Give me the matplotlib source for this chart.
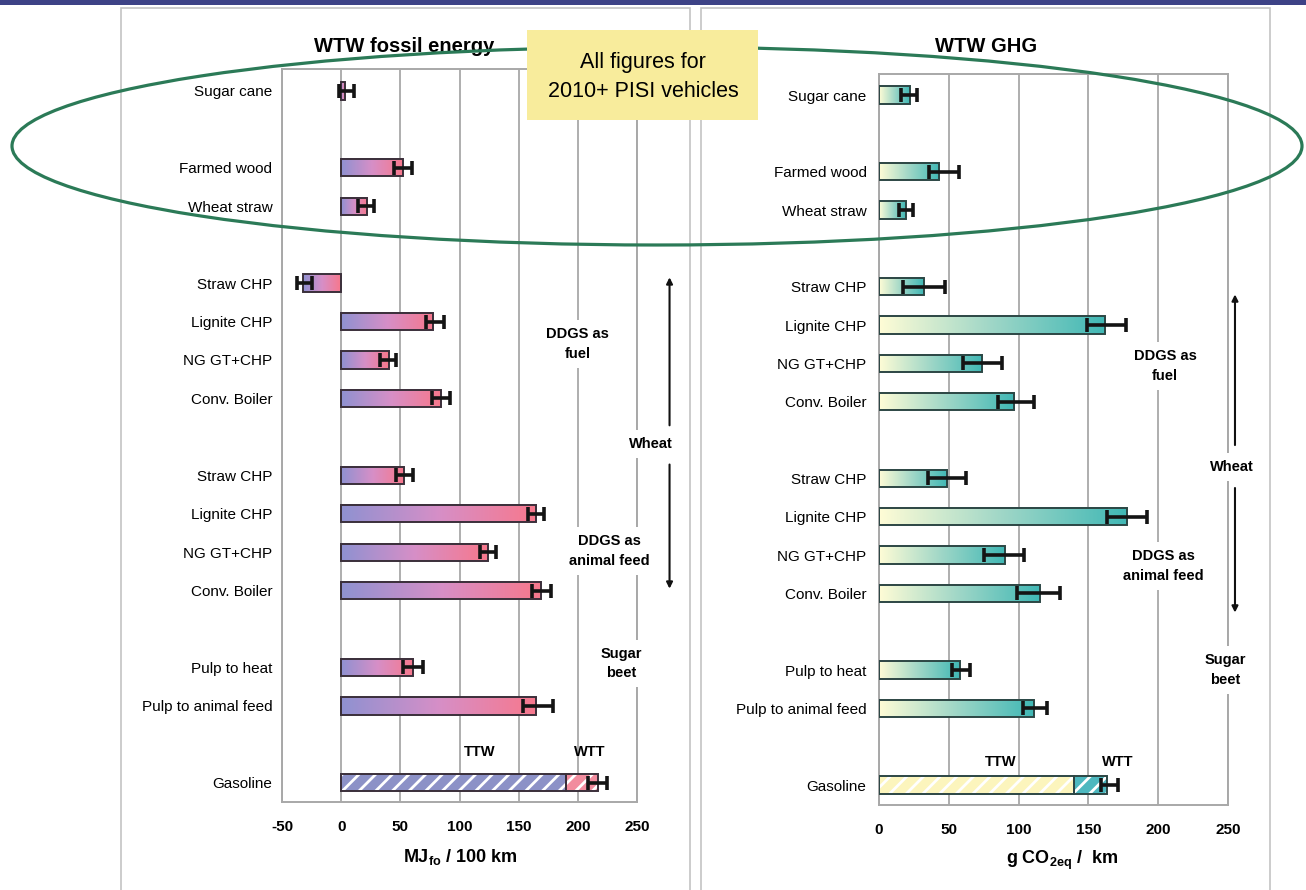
"""
Well-to-wheels fossil energy and GHG for ethanol pathways (2010+ PISI vehicles),
two horizontal bar panels with min/max ranges and a gasoline reference.
"""

import matplotlib.pyplot as plt
import numpy as np
from matplotlib.colors import LinearSegmentedColormap
from matplotlib.patches import Ellipse, Rectangle

W_PX, H_PX = 1306, 890

plt.rcParams["font.family"] = ["Liberation Sans", "DejaVu Sans"]
plt.rcParams["mathtext.fontset"] = "custom"
plt.rcParams["mathtext.rm"] = "Liberation Sans:bold"
plt.rcParams["mathtext.it"] = "Liberation Sans:bold"
plt.rcParams["mathtext.bf"] = "Liberation Sans:bold"
plt.rcParams["axes.unicode_minus"] = False
plt.rcParams["hatch.linewidth"] = 2.0

# Pathways, grouped as they are stacked down the chart
GROUPS = [
    ["Sugar cane"],
    ["Farmed wood", "Wheat straw"],
    ["Straw CHP", "Lignite CHP", "NG GT+CHP", "Conv. Boiler"],
    ["Straw CHP", "Lignite CHP", "NG GT+CHP", "Conv. Boiler"],
    ["Pulp to heat", "Pulp to animal feed"],
    ["Gasoline"],
]

# WTW fossil energy, MJ / 100 km (best estimate, min, max)
energy_val = [3, 52, 22, -32, 78, 40, 84, 53, 165, 124, 169, 61, 165]
energy_lo = [-2, 45, 14, -37, 72, 33, 77, 46, 158, 117, 161, 52, 154]
energy_hi = [11, 60, 28, -25, 87, 46, 92, 61, 171, 131, 177, 69, 179]
gasoline_energy_ttw = 190
gasoline_energy_total = 217
gasoline_energy_range = (209, 225)

# WTW GHG, g CO2eq / km (best estimate, min, max)
ghg_val = [22, 43, 19, 32, 162, 74, 97, 49, 178, 90, 115, 58, 111]
ghg_lo = [16, 36, 14, 17, 149, 60, 85, 35, 163, 75, 99, 52, 103]
ghg_hi = [27, 57, 24, 47, 177, 88, 111, 62, 192, 104, 130, 65, 120]
gasoline_ghg_ttw = 140
gasoline_ghg_total = 163
gasoline_ghg_range = (159, 171)

ENERGY_CMAP = LinearSegmentedColormap.from_list(
    "energy", [(0.56, 0.57, 0.82), (0.84, 0.56, 0.78), (0.97, 0.47, 0.55)])
GHG_CMAP = LinearSegmentedColormap.from_list(
    "ghg", [(1.0, 0.99, 0.84), (0.62, 0.84, 0.78), (0.25, 0.72, 0.71)])


def fig_xy(x_px, y_px):
    return x_px / W_PX, 1 - y_px / H_PX


def row_positions():
    labels, pos = [], []
    y = 0
    for group in GROUPS:
        for name in group:
            labels.append(name)
            pos.append(y)
            y += 1
        y += 1
    return labels, pos


def gradient_bar(ax, x0, x1, y, h, cmap, edge):
    grad = np.linspace(0, 1, 256).reshape(1, -1)
    ax.imshow(grad, extent=(x0, x1, y + h / 2, y - h / 2), aspect="auto",
              cmap=cmap, interpolation="bilinear", zorder=2)
    ax.add_patch(Rectangle((x0, y - h / 2), x1 - x0, h, fill=False,
                           edgecolor=edge, lw=1.4, zorder=3))


def hatched_bar(ax, x0, x1, y, h, fill, edge):
    ax.add_patch(Rectangle((x0, y - h / 2), x1 - x0, h, facecolor=fill,
                           edgecolor="white", hatch="//", lw=0, zorder=2))
    ax.add_patch(Rectangle((x0, y - h / 2), x1 - x0, h, fill=False,
                           edgecolor=edge, lw=1.4, zorder=3))


def draw_panel(ax, vals, lo, hi, gas_ttw, gas_total, gas_range, cmap,
               ttw_fill, wtt_fill, edge, xlim, ylim):
    labels, pos = row_positions()
    h = 0.45
    err_style = dict(fmt="none", ecolor="#141414", elinewidth=2.6,
                     capsize=4.8, capthick=2.6, zorder=4)
    for v, y in zip(vals, pos[:-1]):
        gradient_bar(ax, min(0, v), max(0, v), y, h, cmap, edge)
    ax.errorbar(vals, pos[:-1],
                xerr=[np.subtract(vals, lo), np.subtract(hi, vals)],
                **err_style)

    gy = pos[-1]
    hatched_bar(ax, 0, gas_ttw, gy, h, ttw_fill, edge)
    hatched_bar(ax, gas_ttw, gas_total, gy, h, wtt_fill, edge)
    ax.errorbar([gas_total], [gy],
                xerr=[[gas_total - gas_range[0]], [gas_range[1] - gas_total]],
                **err_style)

    ax.set_xlim(*xlim)
    ax.set_ylim(*ylim)
    ax.set_xticks(np.arange(xlim[0], xlim[1] + 1, 50))
    ax.set_yticks(pos)
    ax.set_yticklabels(labels, fontsize=11)
    ax.tick_params(axis="y", length=0, pad=7)
    ax.tick_params(axis="x", length=0, pad=13, labelsize=11)
    for lab in ax.get_xticklabels():
        lab.set_fontweight("bold")
    ax.grid(axis="x", color="#a8a8a8", lw=1.3, zorder=0)
    ax.set_axisbelow(True)
    for s in ax.spines.values():
        s.set_color("#a8a8a8")
        s.set_linewidth(1.4)


def side_text(ax, x, y, s):
    ax.text(x, y, s, ha="center", va="center", fontsize=10.5, fontweight="bold",
            linespacing=1.5, zorder=3, clip_on=False,
            bbox=dict(facecolor="white", edgecolor="none", pad=5))


def side_arrow(ax, x, y_from, y_to):
    ax.annotate("", xy=(x, y_to), xytext=(x, y_from), annotation_clip=False,
                arrowprops=dict(arrowstyle="-|>", color="#111111", lw=1.5,
                                mutation_scale=9, shrinkA=0, shrinkB=0))


fig = plt.figure(figsize=(W_PX / 100, H_PX / 100), dpi=100)

# Page furniture: header band and the two panel frames
fig.add_artist(Rectangle(fig_xy(0, 5), 1, 5 / H_PX, transform=fig.transFigure,
                         facecolor="#3d4286", edgecolor="none", zorder=0))
for x0, x1 in [(121, 690), (701, 1270)]:
    fig.add_artist(Rectangle(fig_xy(x0, 900), (x1 - x0) / W_PX, 892 / H_PX,
                             transform=fig.transFigure, fill=False,
                             edgecolor="#c4c4c4", lw=1.2, zorder=0))

ax1 = fig.add_axes([282 / W_PX, 1 - 802 / H_PX, 355 / W_PX, 733 / H_PX])
ax2 = fig.add_axes([879 / W_PX, 1 - 805 / H_PX, 349 / W_PX, 731 / H_PX])

draw_panel(ax1, energy_val, energy_lo, energy_hi, gasoline_energy_ttw,
           gasoline_energy_total, gasoline_energy_range, ENERGY_CMAP,
           (0.55, 0.57, 0.78), (0.95, 0.55, 0.62), "#3a2f3a",
           (-50, 250), (18.5, -0.57))
draw_panel(ax2, ghg_val, ghg_lo, ghg_hi, gasoline_ghg_ttw,
           gasoline_ghg_total, gasoline_ghg_range, GHG_CMAP,
           (0.99, 0.96, 0.74), (0.30, 0.72, 0.75), "#2c4644",
           (0, 250), (18.52, -0.55))
ax2.tick_params(axis="y", pad=9)

# Annotations, left panel
side_text(ax1, 200, 6.58, "DDGS as\nfuel")
side_text(ax1, 262, 9.18, "Wheat")
side_text(ax1, 227, 11.97, "DDGS as\nanimal feed")
side_text(ax1, 237, 14.9, "Sugar\nbeet")
side_arrow(ax1, 277.5, 8.7, 4.85)
side_arrow(ax1, 277.5, 9.72, 12.95)
ax1.text(117, 17.2, "TTW", ha="center", va="center", fontsize=10.5,
         fontweight="bold")
ax1.text(210, 17.2, "WTT", ha="center", va="center", fontsize=10.5,
         fontweight="bold")

# Annotations, right panel
side_text(ax2, 205, 7.07, "DDGS as\nfuel")
side_text(ax2, 253, 9.7, "Wheat")
side_text(ax2, 204, 12.29, "DDGS as\nanimal feed")
side_text(ax2, 248, 15.0, "Sugar\nbeet")
side_arrow(ax2, 255, 9.13, 5.2)
side_arrow(ax2, 255, 10.25, 13.5)
ax2.text(87, 17.4, "TTW", ha="center", va="center", fontsize=10.5,
         fontweight="bold")
ax2.text(171, 17.4, "WTT", ha="center", va="center", fontsize=10.5,
         fontweight="bold")

# Titles and axis labels
fig.text(*fig_xy(404, 46), "WTW fossil energy", ha="center", va="center",
         fontsize=14.5, fontweight="bold")
fig.text(*fig_xy(986, 46), "WTW GHG", ha="center", va="center",
         fontsize=14.5, fontweight="bold")
fig.text(*fig_xy(460, 857), r"MJ$_{fo}$ / 100 km", ha="center", va="center",
         fontsize=13, fontweight="bold")
fig.text(*fig_xy(1062, 860), r"g CO$_{2eq}$ /  km", ha="center", va="center",
         fontsize=13, fontweight="bold")

# Highlight ring and note box over the top rows
cx, cy = fig_xy(657, 146)
fig.add_artist(Ellipse((cx, cy), 1290 / W_PX, 198 / H_PX,
                       transform=fig.transFigure, fill=False,
                       edgecolor="#2b7a57", lw=2.3, zorder=5))
fig.add_artist(Rectangle(fig_xy(527, 120), 231 / W_PX, 90 / H_PX,
                         transform=fig.transFigure, facecolor="#f8ec9c",
                         edgecolor="none", zorder=6))
fig.text(*fig_xy(643, 77), "All figures for\n2010+ PISI vehicles",
         ha="center", va="center", fontsize=15.5, linespacing=1.45, zorder=7)

fig.savefig("out.png", dpi=100)
